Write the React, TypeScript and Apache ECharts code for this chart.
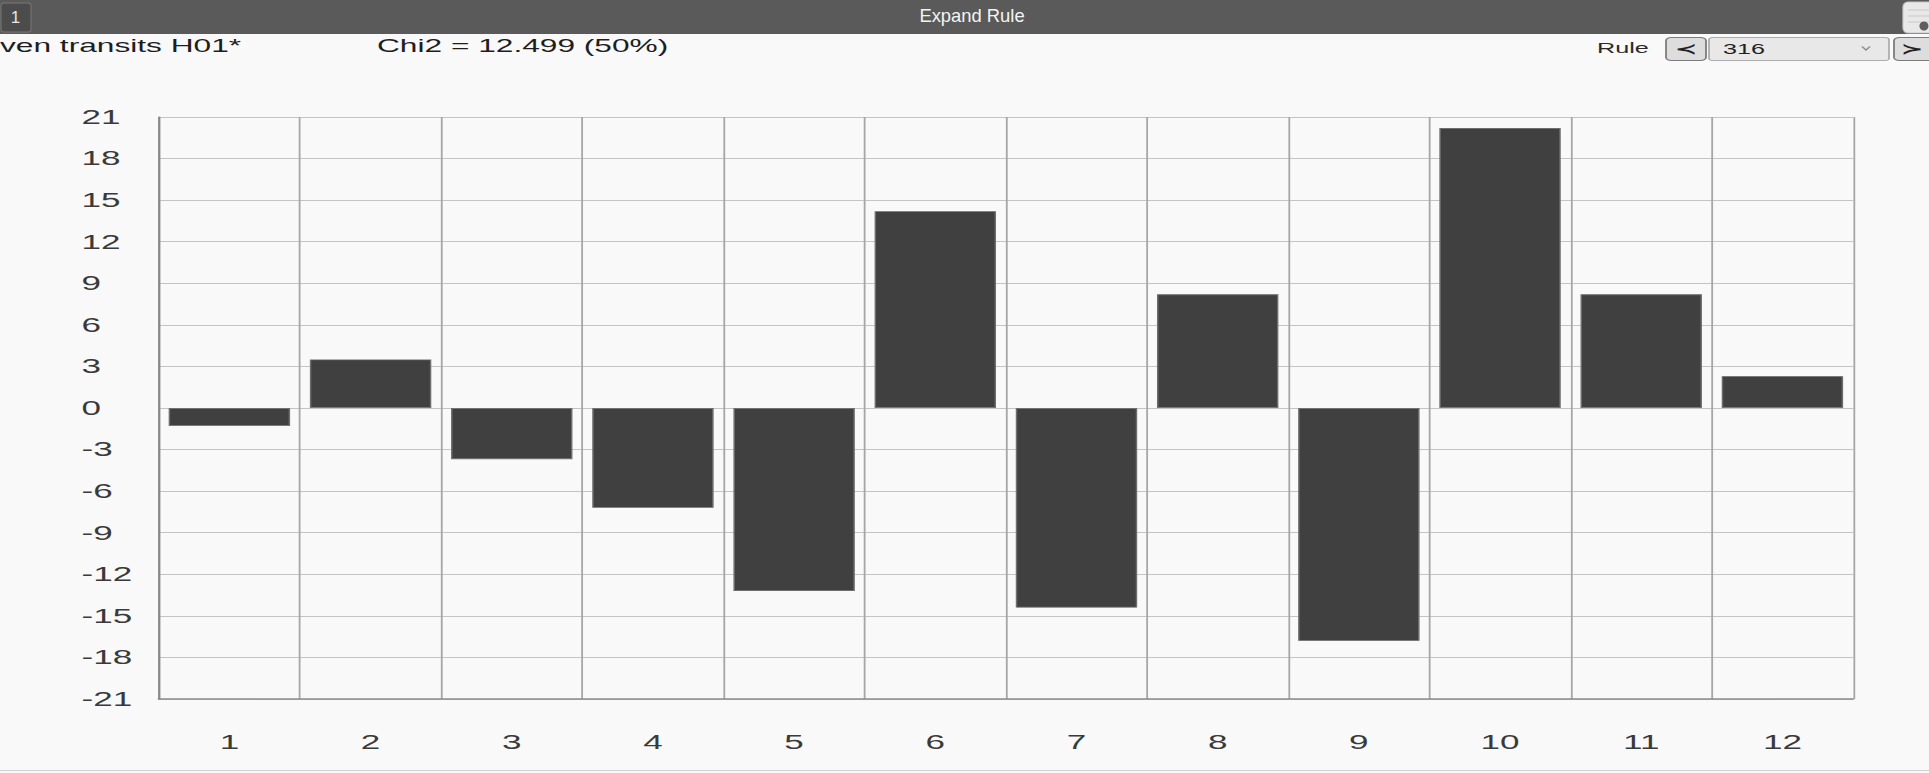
import React, { useEffect, useRef } from "react";
import * as echarts from "echarts";

// ---- data ----
const categories = ["1", "2", "3", "4", "5", "6", "7", "8", "9", "10", "11", "12"];
const deviations = [-1.3, 3.5, -3.7, -7.2, -13.2, 14.2, -14.4, 8.2, -16.8, 20.2, 8.2, 2.3];
const yMin = -21;
const yMax = 21;
const yStep = 3;
const headerLeft = "ven transits H01*";
const chiText = "Chi2 = 12.499 (50%)";
const ruleValue = "316";

// the reference is horizontally stretched: draw at a narrower width and stretch
const FULL_W = 1929;
const W = 1072;
const H = 773;
const S = FULL_W / W;
const fx = (x: number) => x / S;

export default function App() {
  const ref = useRef<HTMLDivElement>(null);

  useEffect(() => {
    if (!ref.current) return;
    const chart = echarts.init(ref.current, undefined, { renderer: "svg" });

    const txt = (text: string, x: number, y: number, size: number, extra: any = {}) => ({
      type: "text",
      x,
      y,
      style: {
        text,
        fill: extra.fill || "#1e1e1e",
        fontSize: size,
        fontFamily: extra.fontFamily || "Liberation Sans, Arial, sans-serif",
        fontWeight: extra.fontWeight || "normal",
        align: extra.align || "left",
        textAlign: extra.align || "left",
        verticalAlign: "middle",
        textVerticalAlign: "middle",
      },
      scaleX: extra.scaleX || 1,
      z: 20,
    });

    const option: any = {
      animation: false,
      backgroundColor: "#f9f9f9",
      textStyle: { fontFamily: "Liberation Sans, Arial, sans-serif" },
      grid: { left: fx(158.8), right: W - fx(1853), top: 117, bottom: 74, containLabel: false },
      xAxis: {
        type: "category",
        data: categories,
        boundaryGap: true,
        axisLine: { onZero: false, lineStyle: { color: "#8c8c8c", width: 1.6 } },
        axisTick: { show: false },
        axisLabel: { color: "#3a3a3a", fontSize: 19.5, margin: 33, interval: 0 },
        splitLine: { show: true, interval: 0, lineStyle: { color: "#a6a6a6", width: 1 } },
      },
      yAxis: {
        type: "value",
        min: yMin,
        max: yMax,
        interval: yStep,
        axisLine: { show: true, lineStyle: { color: "#888888", width: 1.2 } },
        axisTick: { show: false },
        axisLabel: { color: "#3a3a3a", fontSize: 19.5, align: "left", margin: fx(158.8) - fx(81.5) },
        splitLine: { show: true, lineStyle: { color: "#c4c4c4", width: 1 } },
      },
      series: [
        {
          type: "bar",
          data: deviations,
          barWidth: "86%",
          itemStyle: { color: "#404040", borderColor: "#6e6e6e", borderWidth: 0.8 },
        },
      ],
      graphic: [
        // title bar
        { type: "rect", shape: { x: 0, y: 0, width: W, height: 34 }, style: { fill: "#5a5a5a" }, z: 10 },
        {
          type: "group",
          scaleX: 1 / S,
          z: 20,
          children: [
            { type: "rect", shape: { x: 1, y: 3, width: 30, height: 29, r: 3 }, style: { fill: "#4c4c4c", stroke: "#787878", lineWidth: 1 }, z: 20 },
            txt("1", 15.5, 18, 17, { fill: "#e6e6e6", align: "center" }),
            txt("Expand Rule", 972, 16.5, 17.5, { fill: "#f4f4f4", align: "center", scaleX: 1.05 }),
            { type: "rect", shape: { x: 1902, y: 2, width: 32, height: 31, r: 5 }, style: { fill: "#e8e8e8", stroke: "#c4c4c4", lineWidth: 1 }, z: 20 },
            { type: "line", shape: { x1: 1907, y1: 10, x2: 1929, y2: 10 }, style: { stroke: "#cacaca", lineWidth: 1 }, z: 21 },
            { type: "line", shape: { x1: 1907, y1: 16, x2: 1929, y2: 16 }, style: { stroke: "#cacaca", lineWidth: 1 }, z: 21 },
            { type: "line", shape: { x1: 1907, y1: 22, x2: 1929, y2: 22 }, style: { stroke: "#cacaca", lineWidth: 1 }, z: 21 },
            { type: "circle", shape: { cx: 1923, cy: 26, r: 4.5 }, style: { fill: "#5e5e5e" }, z: 22 },
          ],
        },
        // header line
        txt(headerLeft, 0, 46, 17.6),
        txt(chiText, fx(377), 46, 17.6),
        txt("Rule", fx(1597), 48.5, 14, { fill: "#2a2a2a" }),
        { type: "rect", shape: { x: fx(1666), y: 37.5, width: fx(1706) - fx(1666), height: 23, r: 3 }, style: { fill: "#dddddd", stroke: "#7c7c7c", lineWidth: 1 }, z: 20 },
        txt("≺", fx(1686), 48.5, 15, { align: "center", fontFamily: "DejaVu Sans", fontWeight: "bold", fill: "#222" }),
        { type: "rect", shape: { x: fx(1709), y: 37.5, width: fx(1889) - fx(1709), height: 23, r: 2 }, style: { fill: "#e8e8e8", stroke: "#adadad", lineWidth: 1 }, z: 20 },
        txt(ruleValue, fx(1723), 49, 14, { fill: "#222" }),
        { type: "polyline", shape: { points: [[fx(1862), 46.5], [fx(1866), 50], [fx(1870), 46.5]] }, style: { stroke: "#8a8a8a", lineWidth: 1, fill: null }, z: 21 },
        { type: "rect", shape: { x: fx(1894), y: 37.5, width: fx(1940) - fx(1894), height: 23, r: 3 }, style: { fill: "#dddddd", stroke: "#7c7c7c", lineWidth: 1 }, z: 20 },
        txt("≻", fx(1912), 48.5, 15, { align: "center", fontFamily: "DejaVu Sans", fontWeight: "bold", fill: "#222" }),
        // bottom border
        { type: "line", shape: { x1: 0, y1: 770.5, x2: W, y2: 770.5 }, style: { stroke: "#d2d2d2", lineWidth: 1 }, z: 20 },
      ],
    };

    chart.setOption(option);
    return () => chart.dispose();
  }, []);

  return (
    <div
      ref={ref}
      style={{
        position: "fixed",
        left: 0,
        top: 0,
        width: W,
        height: H,
        transform: `scaleX(${S})`,
        transformOrigin: "0 0",
      }}
    />
  );
}
